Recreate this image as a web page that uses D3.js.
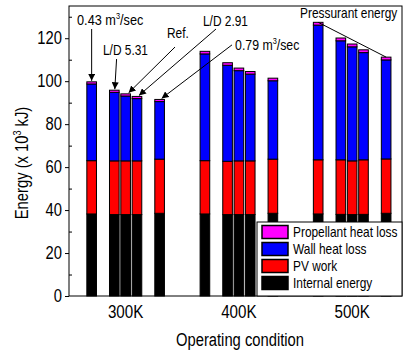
<!DOCTYPE html>
<html>
<head>
<meta charset="utf-8">
<script src="https://cdnjs.cloudflare.com/ajax/libs/d3/7.8.5/d3.min.js"></script>
<style>
  body { margin: 0; background: #fff; }
  text { font-family: "Liberation Sans", Arial, sans-serif; fill: #000; }
</style>
</head>
<body>
<div id="chart"></div>
<script>
// categories
const groups = ["300K", "400K", "500K"];
const cases = ["0.43 m3/sec", "L/D 5.31", "Ref.", "L/D 2.91", "0.79 m3/sec"];
const caseSlots = [0, 2, 3, 4, 6];   // bar slot inside each group
const seriesNames = ["Internal energy", "PV work", "Wall heat loss", "Propellant heat loss"];

// values, x 10^3 kJ, one row per group
const internalEnergy = [
  [38.2, 37.9, 37.9, 37.9, 38.5],
  [38.2, 37.9, 37.9, 37.9, 38.5],
  [38.2, 38.0, 37.9, 38.0, 38.5]
];
const pvWork = [
  [24.8, 25.0, 25.0, 25.0, 25.2],
  [24.8, 24.8, 25.0, 25.0, 25.2],
  [25.2, 25.4, 25.0, 25.4, 25.3]
];
const wallHeatLoss = [
  [35.7, 31.9, 30.2, 29.0, 26.8],
  [49.7, 44.7, 42.0, 40.4, 36.5],
  [62.7, 55.4, 53.1, 49.9, 46.1]
];
const propellantHeatLoss = [
  [1.0, 1.0, 1.0, 1.0, 1.0],
  [1.2, 1.2, 1.2, 1.2, 1.2],
  [1.3, 1.3, 1.3, 1.3, 1.3]
];
const yTicks = [0, 20, 40, 60, 80, 100, 120];
const yMinorTicks = [10, 30, 50, 70, 90, 110, 130];

const colors = ["#000000", "#ff0000", "#0000ff", "#ff00ff"];

const W = 403, H = 354;
const margin = { top: 6, right: 1, bottom: 58, left: 69 };

// no narrow face installed, so squeeze Liberation Sans
function narrow(sel, k) {
  sel.each(function () {
    const w = this.getComputedTextLength();
    d3.select(this).attr("textLength", w * (k || 0.82)).attr("lengthAdjust", "spacingAndGlyphs");
  });
}

const svg = d3.select("#chart").append("svg")
  .attr("width", W)
  .attr("height", H);

const x = d3.scaleLinear().domain([-2, 27.4]).range([margin.left, W - margin.right]);
const y = d3.scaleLinear().domain([0, 135]).range([H - margin.bottom, margin.top]);
const slotW = x(1) - x(0);
const barW = slotW * 0.85;

// flat table for the stack
const rows = [];
groups.forEach((g, gi) => {
  cases.forEach((c, ci) => {
    rows.push({
      group: g, gi: gi, ci: ci,
      slot: gi * 10 + caseSlots[ci],
      "Internal energy": internalEnergy[gi][ci],
      "PV work": pvWork[gi][ci],
      "Wall heat loss": wallHeatLoss[gi][ci],
      "Propellant heat loss": propellantHeatLoss[gi][ci]
    });
  });
});
const stacked = d3.stack().keys(seriesNames)(rows);

// bars
svg.append("g")
  .selectAll("g")
  .data(stacked)
  .enter()
  .append("g")
  .attr("fill", (d, i) => colors[i])
  .selectAll("rect")
  .data(d => d)
  .enter()
  .append("rect")
  .attr("x", d => x(d.data.slot) - barW / 2)
  .attr("y", d => y(d[1]))
  .attr("width", barW)
  .attr("height", d => y(d[0]) - y(d[1]))
  .attr("stroke", "#000")
  .attr("stroke-width", 1);

// frame
svg.append("rect")
  .attr("x", margin.left)
  .attr("y", margin.top)
  .attr("width", W - margin.right - margin.left)
  .attr("height", H - margin.bottom - margin.top)
  .attr("fill", "none")
  .attr("stroke", "#000")
  .attr("stroke-width", 1);

// y axis
const yAxis = svg.append("g")
  .attr("transform", "translate(" + margin.left + ",0)")
  .call(d3.axisLeft(y).tickValues(yTicks).tickSize(4).tickPadding(3));
yAxis.select(".domain").remove();
yAxis.attr("font-family", null).attr("font-size", null);
yAxis.selectAll("text").style("font-size", "18px").call(narrow);

svg.append("g")
  .attr("transform", "translate(" + margin.left + ",0)")
  .call(d3.axisRight(y).tickValues(yMinorTicks.filter(v => v < 135)).tickSize(3).tickFormat(""))
  .call(g => g.select(".domain").remove());

// x axis labels
svg.append("g")
  .selectAll("text")
  .data(groups)
  .enter()
  .append("text")
  .attr("x", (d, i) => x(i * 10 + 3))
  .attr("y", H - margin.bottom + 22)
  .attr("text-anchor", "middle")
  .style("font-size", "18.5px")
  .text(d => d)
  .call(narrow);

// axis titles
svg.append("text")
  .attr("x", 240)
  .attr("y", 346)
  .attr("text-anchor", "middle")
  .style("font-size", "18px")
  .text("Operating condition")
  .call(narrow);

const yTitle = svg.append("text")
  .attr("transform", "translate(28,163) rotate(-90)")
  .attr("text-anchor", "middle")
  .style("font-size", "18px");
yTitle.append("tspan").text("Energy (x 10");
yTitle.append("tspan").attr("dy", -7).style("font-size", "11px").text("3");
yTitle.append("tspan").attr("dy", 7).text(" kJ)");
yTitle.call(narrow);

// annotations
svg.append("defs").append("marker")
  .attr("id", "arrow")
  .attr("viewBox", "0 0 10 10")
  .attr("refX", 10).attr("refY", 5)
  .attr("markerWidth", 7).attr("markerHeight", 7)
  .attr("markerUnits", "userSpaceOnUse")
  .attr("orient", "auto")
  .append("path")
  .attr("d", "M0,0L10,5L0,10z")
  .attr("fill", "#000");

const notes = [
  { ci: 0, tx: -1.29, ty: 126.2, size: 15.5, lx: 0.0, ly: 124.3, dx: 0 },
  { ci: 1, tx: 1.0, ty: 112.2, size: 14.5, lx: 2.2, ly: 110.3, dx: 0.5 },
  { ci: 2, tx: 6.65, ty: 120.1, size: 14.5, lx: 7.36, ly: 115.9, dx: 3 },
  { ci: 3, tx: 9.83, ty: 125.7, size: 14.5, lx: 10.98, ly: 124.3, dx: 2 },
  { ci: 4, tx: 12.66, ty: 114.5, size: 15, lx: 12.39, ly: 116.9, dx: 2 }
];
const tot = r => seriesNames.reduce((s, k) => s + r[k], 0);
const top300 = rows.filter(r => r.gi === 0);
notes.forEach(n => {
  const r = top300[n.ci];
  svg.append("line")
    .attr("x1", x(n.lx)).attr("y1", y(n.ly))
    .attr("x2", x(r.slot) + n.dx).attr("y2", y(tot(r)) - 1)
    .attr("stroke", "#000")
    .attr("stroke-width", 1)
    .attr("marker-end", "url(#arrow)");
  const t = svg.append("text")
    .attr("x", x(n.tx))
    .attr("y", y(n.ty))
    .style("font-size", n.size + "px");
  const label = cases[n.ci];
  if (label.indexOf("m3") >= 0) {
    const parts = label.split("m3");
    t.append("tspan").text(parts[0] + "m");
    t.append("tspan").attr("dy", -6).style("font-size", "9px").text("3");
    t.append("tspan").attr("dy", 6).text(parts[1]);
  } else {
    t.text(label);
  }
  t.call(narrow);
});

// pressurant energy line over the 500K tops
const top500 = rows.filter(r => r.gi === 2);
svg.append("line")
  .attr("x1", x(top500[0].slot)).attr("y1", y(tot(top500[0])))
  .attr("x2", x(top500[4].slot)).attr("y2", y(tot(top500[4])))
  .attr("stroke", "#000")
  .attr("stroke-width", 1);
svg.append("text")
  .attr("x", x(18.4))
  .attr("y", y(129.4))
  .style("font-size", "14.5px")
  .text("Pressurant energy")
  .call(narrow);

// legend
const lg = svg.append("g");
const lgX = 257, lgY = 222;
lg.append("rect")
  .attr("x", lgX).attr("y", lgY)
  .attr("width", W - 1 - lgX).attr("height", y(0) - lgY)
  .attr("fill", "#fff")
  .attr("stroke", "#000");
const legendItems = seriesNames.slice().reverse();
const legendColors = colors.slice().reverse();
legendItems.forEach((name, i) => {
  lg.append("rect")
    .attr("x", lgX + 5).attr("y", lgY + 3.5 + i * 17)
    .attr("width", 26).attr("height", 13)
    .attr("fill", legendColors[i])
    .attr("stroke", "#000")
    .attr("stroke-width", 1.5);
  lg.append("text")
    .attr("x", lgX + 36)
    .attr("y", lgY + 15 + i * 17)
    .style("font-size", "14.5px")
    .text(name)
    .call(narrow);
});
</script>
</body>
</html>
